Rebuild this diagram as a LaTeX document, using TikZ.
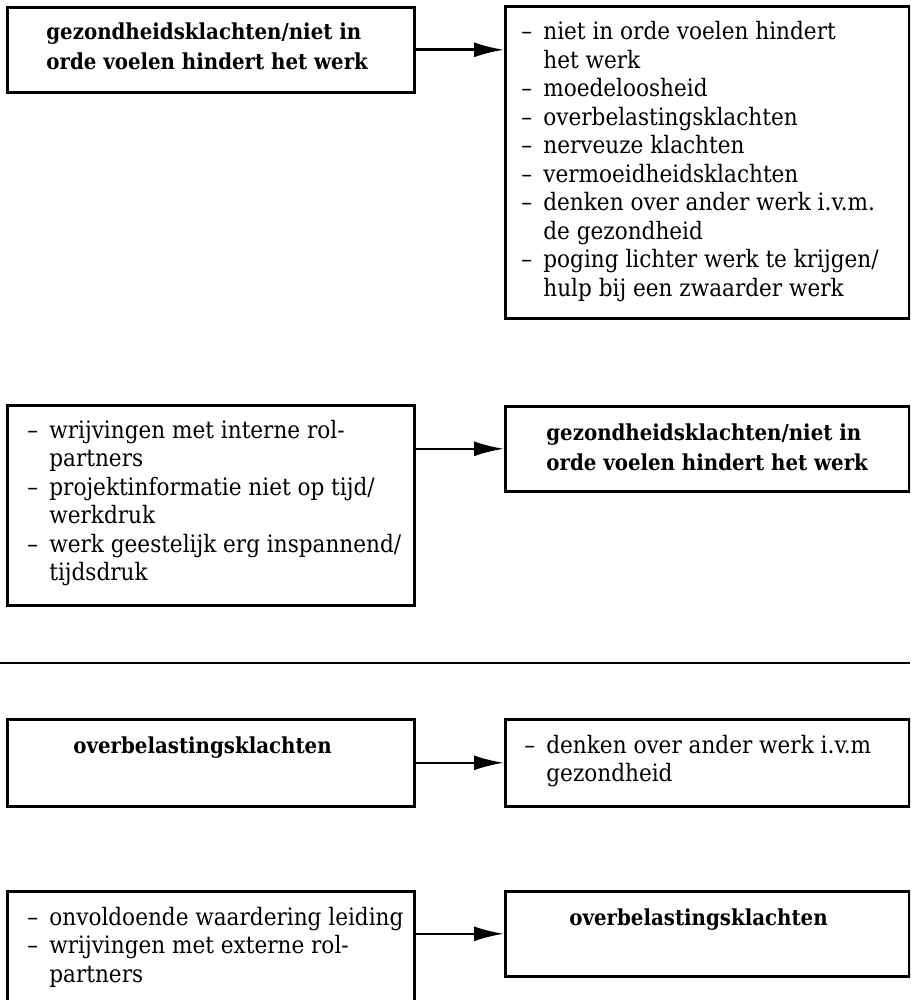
\documentclass[tikz,border=0pt]{standalone}
\usepackage{fontspec}
\setmainfont{DejaVu Serif Condensed}
\usetikzlibrary{arrows.meta}
\tikzset{
  box/.style={draw, line width=1.3pt, inner sep=0pt, anchor=north west},
  txt/.style={anchor=base west, inner sep=0pt, font=\fontsize{12}{14.25}\selectfont},
  hd/.style={anchor=base west, inner sep=0pt, font=\fontsize{11}{15}\selectfont\bfseries},
  arr/.style={line width=1.3pt, -{Latex[length=15pt,width=7.5pt]}},
  rule/.style={line width=1pt}
}
\newcommand\lst[1]{\begin{tabular}[t]{@{}p{11pt}@{}l@{}}#1\end{tabular}}
\newcommand\hdl[1]{\begin{tabular}[t]{@{}l@{}}#1\end{tabular}}
\begin{document}
\begin{tikzpicture}[x=0.5pt,y=-0.5pt]
\clip (0,0) rectangle (910,1000);
\fill[white] (0,0) rectangle (910,1000);
% boxes
\node[box, minimum width=203.5pt, minimum height=42.5pt] (a1) at (6,6) {};
\node[box, minimum width=202pt, minimum height=156pt] (b1) at (504,5) {};
\node[box, minimum width=203.5pt, minimum height=100pt] (a2) at (6,404) {};
\node[box, minimum width=202pt, minimum height=42.5pt] (b2) at (504,405) {};
\node[box, minimum width=203.5pt, minimum height=43.5pt] (a3) at (6,718) {};
\node[box, minimum width=202pt, minimum height=43.5pt] (b3) at (504,718) {};
\node[box, minimum width=203.5pt, minimum height=70pt] (a4) at (6,890) {};
\node[box, minimum width=202pt, minimum height=42.5pt] (b4) at (504,890) {};
% texts
\node[hd] (a1t) at (46,40) {\hdl{gezondheidsklachten/niet in\\orde voelen hindert het werk}};
\node[txt] (b1t) at (521,40) {\lst{\textendash & niet in orde voelen hindert\\
 & het werk\\
\textendash & moedeloosheid\\
\textendash & overbelastingsklachten\\
\textendash & nerveuze klachten\\
\textendash & vermoeidheidsklachten\\
\textendash & denken over ander werk i.v.m.\\
 & de gezondheid\\
\textendash & poging lichter werk te krijgen/\\
 & hulp bij een zwaarder werk}};
\node[txt] (a2t) at (27,438) {\lst{\textendash & wrijvingen met interne rol-\\
 & partners\\
\textendash & projektinformatie niet op tijd/\\
 & werkdruk\\
\textendash & werk geestelijk erg inspannend/\\
 & tijdsdruk}};
\node[hd] (b2t) at (546,440) {\hdl{gezondheidsklachten/niet in\\orde voelen hindert het werk}};
\node[hd] (a3t) at (73,753) {overbelastingsklachten};
\node[txt] (b3t) at (524,753) {\lst{\textendash & denken over ander werk i.v.m\\
 & gezondheid}};
\node[txt] (a4t) at (27,925) {\lst{\textendash & onvoldoende waardering leiding\\
\textendash & wrijvingen met externe rol-\\
 & partners}};
\node[hd] (b4t) at (569,925) {overbelastingsklachten};
% connectors
\draw[arr] (a1.east) -- (a1.east -| b1.west);
\draw[arr] (b2.west -| a2.east) -- (b2.west);
\draw[arr] (a3.east) -- (a3.east -| b3.west);
\draw[arr] (b4.west -| a4.east) -- (b4.west);
% separator
\draw[rule] (0,663) -- (910,663);
\end{tikzpicture}
\end{document}
